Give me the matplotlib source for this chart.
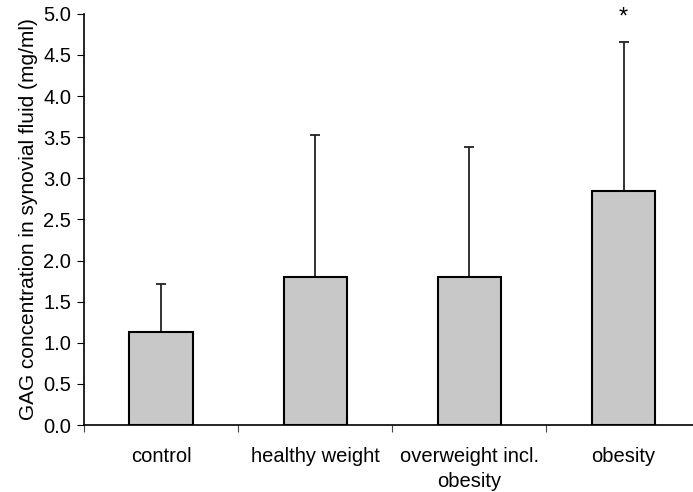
import matplotlib.pyplot as plt, numpy as np

plt.rcParams['font.family'] = ['Liberation Sans', 'DejaVu Sans']

groups = ['control', 'healthy weight', 'overweight incl.\nobesity', 'obesity']
means = [1.13, 1.80, 1.80, 2.85]
err_up = [0.59, 1.73, 1.58, 1.81]
stars = ['', '', '', '*']

fig = plt.figure(figsize=(6.93, 4.92), dpi=100)
ax = fig.add_axes([0.121, 0.136, 0.89, 0.836])

x = np.arange(len(groups))
ax.bar(x, means, width=0.41, color='#c8c8c8', edgecolor='black', linewidth=1.5, zorder=2)
ax.errorbar(x, means, yerr=[np.zeros(len(x)), err_up], fmt='none', ecolor='#222222',
            elinewidth=1.3, capsize=3.5, capthick=1.3, zorder=1)
for xi, m, e, s in zip(x, means, err_up, stars):
    if s:
        ax.text(xi, m + e + 0.3, s, ha='center', va='center', fontsize=17)

ax.set_xlim(-0.5, 3.5)
ax.set_ylim(0, 5.0)
ax.set_yticks(np.arange(0, 5.01, 0.5))
ax.set_yticklabels([f'{v:.1f}' for v in np.arange(0, 5.01, 0.5)], fontsize=14.5)
ax.set_xticks(np.arange(-0.5, 3.6, 1.0))
ax.set_xticklabels([])
ax.set_xticks(x, minor=True)
ax.set_xticklabels(groups, minor=True, fontsize=14.5, linespacing=1.35)
ax.tick_params(axis='x', which='minor', length=0, pad=16)
ax.tick_params(axis='x', which='major', length=5, direction='out', color='#444444')
ax.tick_params(axis='y', length=5, direction='out', pad=4)
ax.set_ylabel('GAG concentration in synovial fluid (mg/ml)', fontsize=15, labelpad=4)
for side in ['top', 'right']:
    ax.spines[side].set_visible(False)
ax.spines['left'].set_linewidth(1.2)
ax.spines['bottom'].set_linewidth(1.2)
ax.spines['left'].set_zorder(3)

fig.savefig('out.png', dpi=100)
